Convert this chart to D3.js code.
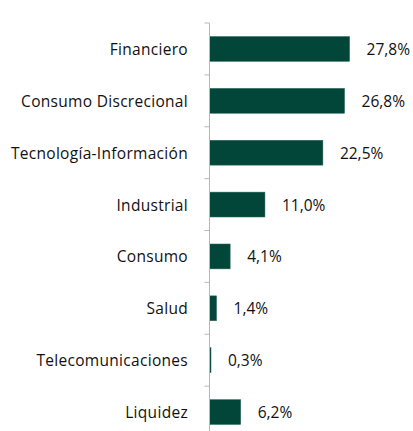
<!DOCTYPE html>
<html><head><meta charset="utf-8">
<script src="https://cdn.jsdelivr.net/npm/d3@7"></script>
<style>body{margin:0;background:#fff}svg{display:block}</style>
</head><body>
<script>
const categories = ["Financiero","Consumo Discrecional","Tecnología-Información","Industrial","Consumo","Salud","Telecomunicaciones","Liquidez"];
const values = [27.8, 26.8, 22.5, 11.0, 4.1, 1.4, 0.3, 6.2];
const valueLabels = ["27,8%","26,8%","22,5%","11,0%","4,1%","1,4%","0,3%","6,2%"];

(function(){
const W = 413, H = 431;
const svg = d3.select("body").append("svg").attr("width", W).attr("height", H);
const x0 = 209.5, yTop = 23, yBottom = 438;
const x = d3.scaleLinear().domain([0, 30]).range([x0, x0 + 151.2]);
const y = d3.scaleBand().domain(categories).range([yTop, yBottom]).paddingInner(0.52).paddingOuter(0.26);

svg.selectAll("rect.bar").data(categories).join("rect")
  .attr("x", x(0)).attr("y", d => y(d))
  .attr("width", (d,i) => x(values[i]) - x(0))
  .attr("height", y.bandwidth())
  .attr("fill", "#02463a").attr("stroke", "#2e6b5e").attr("stroke-width", 0.5);

const yb = d3.scaleBand().domain(categories).range([yTop, yBottom]);
const g = svg.append("g");
g.append("line").attr("x1", x0).attr("x2", x0).attr("y1", yTop).attr("y2", H)
  .attr("stroke", "#b8b8b8").attr("stroke-width", 1);
g.selectAll("line.tick").data(categories).join("line")
  .attr("x1", x0 - 5).attr("x2", x0).attr("y1", d => yb(d)).attr("y2", d => yb(d))
  .attr("stroke", "#b8b8b8");

svg.selectAll("text.cat").data(categories).join("text")
  .attr("x", 188).attr("y", d => yb(d) + yb.bandwidth()/2)
  .attr("text-anchor", "end").attr("dominant-baseline", "central")
  .attr("font-family", "Open Sans").attr("font-size", 15.5).attr("letter-spacing", 0.3).attr("fill", "#111")
  .text(d => d);

svg.selectAll("text.val").data(categories).join("text")
  .attr("x", (d,i) => x(values[i]) + 17).attr("y", d => yb(d) + yb.bandwidth()/2)
  .attr("dominant-baseline", "central")
  .attr("font-family", "Open Sans").attr("font-size", 15.5).attr("fill", "#111")
  .text((d,i) => valueLabels[i]);
})();
</script>
</body></html>
